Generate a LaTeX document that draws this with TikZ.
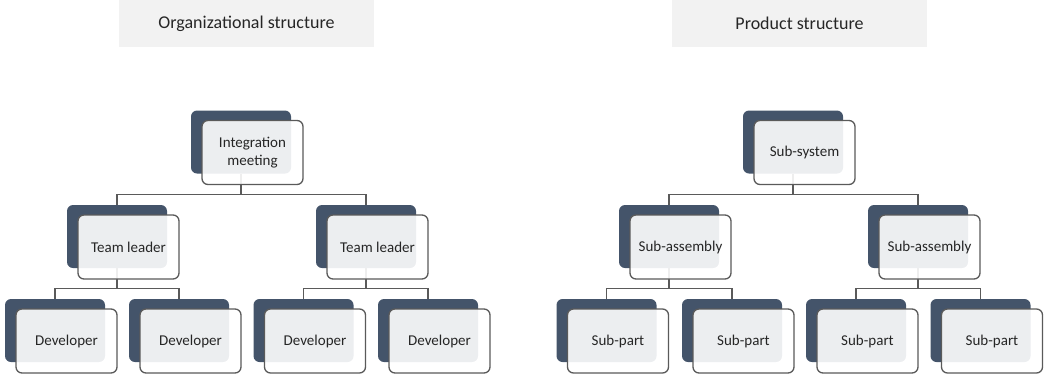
\documentclass[tikz,border=0pt]{standalone}
\usepackage{fontspec}
\setmainfont{Carlito}
\definecolor{navy}{HTML}{44546A}
\definecolor{edge}{HTML}{5A5A5A}
\definecolor{titlefill}{HTML}{F2F2F2}
\definecolor{ink}{HTML}{262626}
\tikzset{
  backbox/.style={rectangle, rounded corners=6pt, fill=navy, minimum width=100pt, minimum height=63pt, inner sep=0pt},
  frontbox/.style={rectangle, rounded corners=6pt, fill=white, fill opacity=0.9, text opacity=1, draw=edge, line width=1.3pt, minimum width=101pt, minimum height=64pt, inner sep=0pt, align=center, text=ink, font=\fontsize{15}{18}\selectfont},
  titlebox/.style={rectangle, fill=titlefill, minimum width=255pt, minimum height=47pt, inner sep=0pt, text=ink, font=\fontsize{18}{21}\selectfont},
  conn/.style={draw=edge, line width=1.3pt}
}
\begin{document}
\begin{tikzpicture}[x=1pt,y=-1pt]
\useasboundingbox (0,0) rectangle (1044,376);
% titles
\node[titlebox] (t1) at (246.5,23.5) {Organizational structure};
\node[titlebox] (t2) at (799.5,23.5) {Product structure};
% back boxes
\node[backbox] (imB) at (241,142) {};
\node[backbox] (tl1B) at (117,236.5) {};
\node[backbox] (tl2B) at (366,236.5) {};
\node[backbox] (d1B) at (55,330.5) {};
\node[backbox] (d2B) at (179,330.5) {};
\node[backbox] (d3B) at (303.5,330.5) {};
\node[backbox] (d4B) at (428,330.5) {};
\node[backbox] (ssB) at (793,142) {};
\node[backbox] (sa1B) at (669,236.5) {};
\node[backbox] (sa2B) at (918,236.5) {};
\node[backbox] (sp1B) at (606.5,330.5) {};
\node[backbox] (sp2B) at (732,330.5) {};
\node[backbox] (sp3B) at (856,330.5) {};
\node[backbox] (sp4B) at (980.5,330.5) {};
% connectors
\draw[conn] (imB.south) -- ++(0,20.5) -| (tl1B.north);
\draw[conn] (imB.south) -- ++(0,20.5) -| (tl2B.north);
\draw[conn] (tl1B.south) -- ++(0,20) -| (d1B.north);
\draw[conn] (tl1B.south) -- ++(0,20) -| (d2B.north);
\draw[conn] (tl2B.south) -- ++(0,20) -| (d3B.north);
\draw[conn] (tl2B.south) -- ++(0,20) -| (d4B.north);
\draw[conn] (ssB.south) -- ++(0,20.5) -| (sa1B.north);
\draw[conn] (ssB.south) -- ++(0,20.5) -| (sa2B.north);
\draw[conn] (sa1B.south) -- ++(0,20) -| (sp1B.north);
\draw[conn] (sa1B.south) -- ++(0,20) -| (sp2B.north);
\draw[conn] (sa2B.south) -- ++(0,20) -| (sp3B.north);
\draw[conn] (sa2B.south) -- ++(0,20) -| (sp4B.north);
% front boxes
\node[frontbox] (im) at (252.5,152.5) {Integration\\meeting};
\node[frontbox] (tl1) at (128.5,247) {Team leader};
\node[frontbox] (tl2) at (377.5,247) {Team leader};
\node[frontbox] (d1) at (66.5,341) {Developer};
\node[frontbox] (d2) at (190.5,341) {Developer};
\node[frontbox] (d3) at (315,341) {Developer};
\node[frontbox] (d4) at (439.5,341) {Developer};
\node[frontbox] (ss) at (804.5,152.5) {Sub-system};
\node[frontbox] (sa1) at (680.5,247) {Sub-assembly};
\node[frontbox] (sa2) at (929.5,247) {Sub-assembly};
\node[frontbox] (sp1) at (618,341) {Sub-part};
\node[frontbox] (sp2) at (743.5,341) {Sub-part};
\node[frontbox] (sp3) at (867.5,341) {Sub-part};
\node[frontbox] (sp4) at (992,341) {Sub-part};
\end{tikzpicture}
\end{document}
